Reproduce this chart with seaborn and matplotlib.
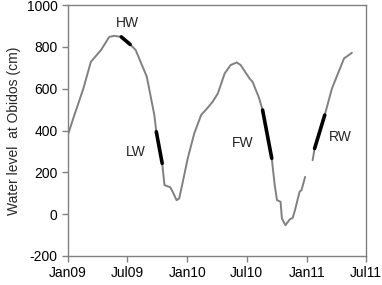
import matplotlib
matplotlib.use("Agg")
import matplotlib.dates as mdates
import numpy as np
import pandas as pd
import seaborn as sns
from matplotlib import pyplot as plt

# water level at Obidos (cm)
dates_a = ["2009-01-01", "2009-01-17", "2009-01-29", "2009-02-17", "2009-03-12",
           "2009-04-12", "2009-05-07", "2009-05-22", "2009-06-13", "2009-07-10",
           "2009-07-27", "2009-08-30", "2009-09-22", "2009-09-28", "2009-10-16",
           "2009-10-23", "2009-11-10", "2009-11-17", "2009-11-29", "2009-12-07",
           "2009-12-17", "2010-01-02", "2010-01-22", "2010-02-12", "2010-02-27",
           "2010-03-19", "2010-04-04", "2010-04-25", "2010-05-13", "2010-06-01",
           "2010-06-13", "2010-07-10", "2010-07-19", "2010-08-07", "2010-08-19",
           "2010-09-16", "2010-09-25", "2010-10-02", "2010-10-13", "2010-10-17",
           "2010-10-28", "2010-11-10", "2010-11-19", "2010-11-26", "2010-12-10",
           "2010-12-16", "2010-12-27"]
level_a = [380, 458, 513, 601, 729,
           785, 848, 853, 848, 812,
           785, 657, 474, 394, 243,
           139, 128, 107, 67, 75,
           147, 266, 386, 474, 500,
           537, 577, 673, 713, 726,
           713, 649, 634, 561, 498,
           267, 139, 67, 59, -21,
           -53, -25, -18, 19, 107,
           115, 178]
# after the gap in the record
dates_b = ["2011-01-19", "2011-01-25", "2011-02-25", "2011-03-19", "2011-04-25",
           "2011-05-19"]
level_b = [258, 314, 474, 601, 745, 772]

# hydrological phases (highlighted in black)
phases = ["HW", "LW", "FW", "RW"]
phase_start = ["2009-06-13", "2009-09-28", "2010-08-19", "2011-01-25"]
phase_end = ["2009-07-10", "2009-10-16", "2010-09-16", "2011-02-25"]
label_date = ["2009-07-01", "2009-07-28", "2010-06-19", "2011-04-13"]
label_level = [915, 298, 341, 370]

df = pd.concat([
    pd.DataFrame({"date": pd.to_datetime(dates_a), "level": level_a, "seg": 0}),
    pd.DataFrame({"date": pd.to_datetime(dates_b), "level": level_b, "seg": 1}),
], ignore_index=True)

ph = []
for p, s, e in zip(phases, phase_start, phase_end):
    sub = df[(df["date"] >= pd.Timestamp(s)) & (df["date"] <= pd.Timestamp(e))].copy()
    sub["phase"] = p
    ph.append(sub)
ph = pd.concat(ph, ignore_index=True)

sns.set_style("white")
plt.rcParams["font.family"] = ["Liberation Sans", "DejaVu Sans"]
plt.rcParams["axes.unicode_minus"] = False

fig = plt.figure(figsize=(3.82, 2.85), dpi=100)
ax = fig.add_axes([0.178, 0.102, 0.78, 0.880])

sns.lineplot(data=df, x="date", y="level", units="seg", estimator=None,
             color="#808080", linewidth=1.4, ax=ax)
sns.lineplot(data=ph, x="date", y="level", units="phase", estimator=None,
             color="black", linewidth=2.6, ax=ax)

for p, d, v in zip(phases, label_date, label_level):
    ax.text(pd.Timestamp(d), v, p, ha="center", va="center", fontsize=10)

ax.set_xlim(pd.Timestamp("2009-01-01"), pd.Timestamp("2011-07-01"))
ax.set_ylim(-200, 1000)
ax.set_yticks(np.arange(-200, 1001, 200))
ax.xaxis.set_major_locator(mdates.MonthLocator(bymonth=[1, 7]))
ax.xaxis.set_major_formatter(mdates.DateFormatter("%b%y"))
ax.set_xlabel("")
ax.set_ylabel("Water level  at Obidos (cm)", fontsize=10)

for s in ax.spines.values():
    s.set_color("#808080")
    s.set_linewidth(1.0)
ax.tick_params(axis="both", direction="out", length=4, width=1, color="#808080",
               labelsize=10, labelcolor="black", bottom=True, left=True)

fig.savefig("out.png", dpi=100)
